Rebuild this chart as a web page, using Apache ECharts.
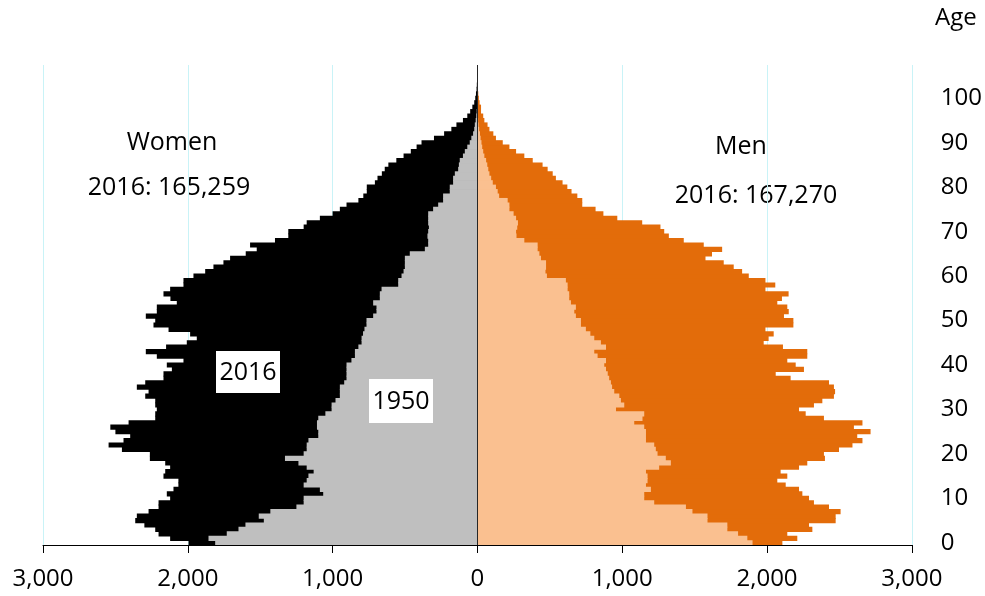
<!DOCTYPE html>
<html>
<head>
<meta charset="utf-8">
<script src="https://cdn.jsdelivr.net/npm/echarts@6/dist/echarts.min.js"></script>
<style>html,body{margin:0;padding:0;background:#fff}#c{width:985px;height:596px}</style>
</head>
<body>
<div id="c"></div>
<script>
// Ages 0..107 (index = age)
const ages = Array.from({length:108}, (_, i) => String(i));
const xTicks = [-3000, -2000, -1000, 0, 1000, 2000, 3000];

const women2016 = [1995,2122,2202,2225,2300,2363,2352,2271,2202,2202,
2122,2145,2099,2065,2065,2168,2156,2122,2156,2262,
2262,2455,2547,2444,2398,2500,2535,2409,2225,2225,
2214,2225,2225,2294,2271,2352,2294,2168,2168,2110,
2145,2030,2214,2290,2150,2007,1938,1984,2133,2237,
2225,2290,2214,2214,2076,2120,2168,2122,2030,2030,
1961,1880,1823,1754,1708,1600,1524,1570,1398,1306,
1306,1200,1179,1088,1000,950,904,822,788,764,
764,708,690,660,640,615,560,510,460,420,
386,300,230,180,145,100,70,50,35,22,
15,10,6,4,2,1,1,0];

const women1950 = [1811,1857,1731,1650,1602,1475,1510,1430,1250,1200,
1200,1065,1088,1200,1179,1167,1131,1179,1236,1329,
1200,1179,1179,1167,1099,1099,1108,1108,1099,1050,
1007,1007,980,950,950,950,920,904,904,904,
904,870,846,846,822,800,800,790,780,766,
766,720,697,697,720,674,674,662,547,547,
524,510,501,501,501,467,363,340,340,345,
340,335,340,340,340,306,271,237,237,191,
191,168,168,156,133,128,122,100,87,70,
53,42,30,22,18,12,8,5,3,2,
1,0,0,0,0,0,0,0];

const men2016 = [2106,2209,2140,2313,2290,2474,2474,2508,2428,2324,
2290,2244,2221,2129,2071,2140,2094,2221,2278,2400,
2393,2497,2590,2659,2623,2715,2600,2659,2393,2267,
2221,2324,2382,2462,2470,2462,2428,2163,2060,2255,
2198,2140,2278,2278,2110,1977,2011,2046,1989,2182,
2182,2117,2150,2140,2071,2103,2149,1989,2057,1989,
1874,1828,1770,1701,1575,1620,1690,1563,1425,1322,
1290,1264,1138,966,870,816,724,724,690,650,
621,588,542,520,485,450,382,324,267,221,
175,128,110,83,70,48,40,25,25,15,
10,6,4,3,2,1,1,0];

const men1950 = [1900,1864,1800,1726,1726,1589,1589,1485,1440,1221,
1152,1152,1198,1164,1175,1175,1164,1255,1336,1301,
1244,1232,1221,1164,1164,1164,1152,1083,1140,1152,
957,1014,991,980,945,930,922,910,900,888,
876,888,830,807,888,853,807,780,749,715,
715,680,669,680,646,634,634,623,623,611,
480,470,474,474,439,428,416,416,324,270,
267,275,280,267,250,221,221,209,150,140,
128,106,95,83,75,68,60,48,40,33,
28,22,18,12,8,5,3,2,1,0,
0,0,0,0,0,0,0,0];

const FONT = '"Open Sans", "Noto Sans", sans-serif';
const chart = echarts.init(document.getElementById('c'), null, {renderer:'canvas'});

function barSeries(name, data, color, neg) {
  return {
    name, type:'bar', data: data.map(v => neg ? -v : v),
    barGap:'-100%', barWidth:5.2,
    itemStyle:{color},
    emphasis:{disabled:true}, silent:true
  };
}

const series = [
  barSeries('Women 2016', women2016, '#000000', true),
  barSeries('Men 2016', men2016, '#e36c0a', false),
  barSeries('Women 1950', women1950, '#bfbfbf', true),
  barSeries('Men 1950', men1950, '#fac090', false)
];
series[3].markLine = {
  silent:true, symbol:'none', label:{show:false},
  lineStyle:{color:'#262626', width:1, type:'solid'},
  data:[{xAxis:0}]
};

chart.setOption({
  animation:false,
  grid:{left:43, right:72, top:65, bottom:51, containLabel:false},
  xAxis:{
    type:'value', min:xTicks[0], max:xTicks[xTicks.length-1], interval:1000,
    axisLine:{show:true, lineStyle:{color:'#000', width:1}},
    axisTick:{show:true, inside:false, length:8, lineStyle:{color:'#000'}},
    axisLabel:{margin:22, color:'#000', fontSize:24, fontFamily:FONT,
      formatter: v => Math.abs(v).toLocaleString('en-US')},
    splitLine:{show:true, lineStyle:{color:'#c9f3f7', width:1}}
  },
  yAxis:{
    type:'category', data:ages, position:'right',
    axisLine:{show:false}, axisTick:{show:false},
    splitLine:{show:false},
    axisLabel:{margin:29, color:'#000', fontSize:24, fontFamily:FONT,
      interval:0,
      formatter:(v, i) => (i % 10 === 0 && i <= 100) ? v : ''}
  },
  series,
  graphic:[
    {type:'text', left:935, top:6, style:{text:'Age', font:'24px ' + FONT, fill:'#000'}},
    {type:'text', x:172, y:143, style:{text:'Women', font:'25px ' + FONT, fill:'#000', align:'center', verticalAlign:'middle'}},
    {type:'text', x:169, y:188, style:{text:'2016: 165,259', font:'25px ' + FONT, fill:'#000', align:'center', verticalAlign:'middle'}},
    {type:'text', x:741, y:147, style:{text:'Men', font:'25px ' + FONT, fill:'#000', align:'center', verticalAlign:'middle'}},
    {type:'text', x:756, y:196, style:{text:'2016: 167,270', font:'25px ' + FONT, fill:'#000', align:'center', verticalAlign:'middle'}},
    {type:'rect', shape:{x:216, y:351, width:64, height:42}, style:{fill:'#fff'}, z:100},
    {type:'text', x:248, y:373, z:101, style:{text:'2016', font:'25px ' + FONT, fill:'#000', align:'center', verticalAlign:'middle'}},
    {type:'rect', shape:{x:369, y:379, width:64, height:44}, style:{fill:'#fff'}, z:100},
    {type:'text', x:401, y:402, z:101, style:{text:'1950', font:'25px ' + FONT, fill:'#000', align:'center', verticalAlign:'middle'}}
  ]
});
</script>
</body>
</html>
